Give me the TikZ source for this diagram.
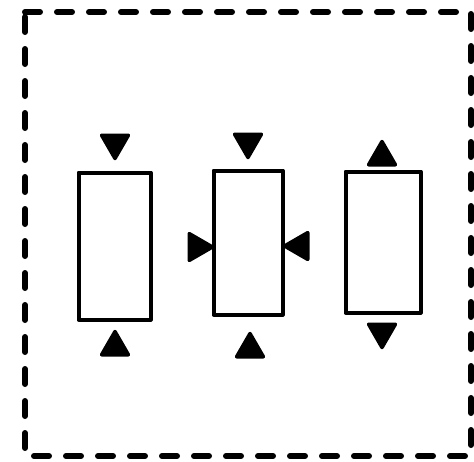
\documentclass[tikz,border=0pt]{standalone}
\usetikzlibrary{shapes.geometric}
\begin{document}
\begin{tikzpicture}[x=1pt,y=-1pt,
  frame/.style={line width=6pt,line cap=round,dash pattern=on 15pt off 17pt},
  panel/.style={draw,line width=4pt,rectangle,inner sep=0pt,line join=round},
  marker/.style={regular polygon,regular polygon sides=3,fill=black,draw=black,
    line width=3.5pt,line join=round,inner sep=0pt,minimum size=31pt},
  down/.style={marker,shape border rotate=180},
  up/.style={marker},
  pointright/.style={marker,shape border rotate=-90},
  pointleft/.style={marker,shape border rotate=90}]
  \useasboundingbox (0,0) rectangle (474,461);
  % dashed outer frame
  \draw[frame] (25,12) -- (471,12) -- (471,456) -- (25,456) -- cycle;
  % three panels
  \node[panel,minimum width=72pt,minimum height=147pt] (p1) at (114.5,246) {};
  \node[panel,minimum width=69pt,minimum height=144pt] (p2) at (248,242.5) {};
  \node[panel,minimum width=75pt,minimum height=141pt] (p3) at (383,242) {};
  % markers of the first panel
  \node[down] (a1) at (115,143) {};
  \node[up] (a2) at (115,347) {};
  % markers of the second panel
  \node[down] (b1) at (248,142) {};
  \node[up] (b2) at (250,349) {};
  \node[pointright] (b3) at (197,247) {};
  \node[pointleft] (b4) at (300,246) {};
  % markers of the third panel
  \node[up] (c1) at (382,157) {};
  \node[down] (c2) at (382,332) {};
\end{tikzpicture}
\end{document}
